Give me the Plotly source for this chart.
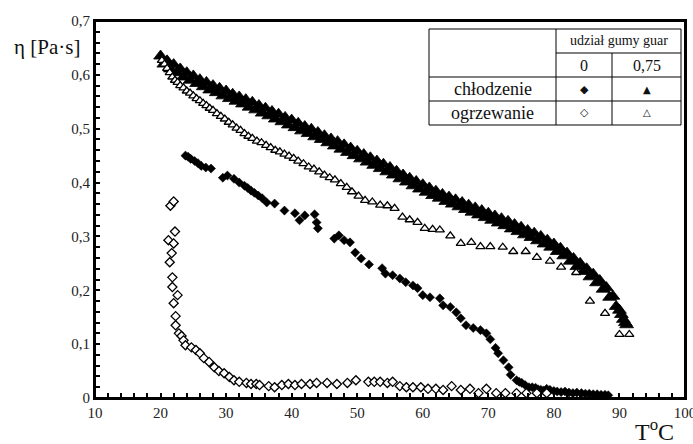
import plotly.graph_objects as go

# ---- data ----
chl_075_x = [20.0, 20.5, 21.0, 21.5, 22.0, 22.5, 23.0, 23.5, 24.0, 24.5, 25.0, 25.5, 26.0, 26.5, 27.0, 27.5,
             28.0, 28.5, 29.0, 29.5, 30.0, 30.5, 31.0, 31.5, 32.0, 32.5, 33.0, 33.5, 34.0, 34.5, 35.0, 35.5,
             36.0, 36.5, 37.0, 37.5, 38.0, 38.5, 39.0, 39.5, 40.0, 40.5, 41.0, 41.5, 42.0, 42.5, 43.0, 43.5,
             44.0, 44.5, 45.0, 45.5, 46.0, 46.5, 47.0, 47.5, 48.0, 48.5, 49.0, 49.5, 50.0, 50.5, 51.0, 51.5,
             52.0, 52.5, 53.0, 53.5, 54.0, 54.5, 55.0, 55.5, 56.0, 56.5, 57.0, 57.5, 58.0, 58.5, 59.0, 59.5,
             60.0, 60.5, 61.0, 61.5, 62.0, 62.5, 63.0, 63.5, 64.0, 64.5, 65.0, 65.5, 66.0, 66.5, 67.0, 67.5,
             68.0, 68.5, 69.0, 69.5, 70.0, 70.5, 71.0, 71.5, 72.0, 72.5, 73.0, 73.5, 74.0, 74.5, 75.0, 75.5,
             76.0, 76.5, 77.0, 77.5, 78.0, 78.5, 79.0, 79.5, 80.0, 80.5, 81.0, 81.5, 82.0, 82.5, 83.0, 83.5,
             84.0, 84.5, 85.0, 85.5, 86.0, 86.5, 87.0, 87.5, 88.0, 88.5, 89.0, 89.5, 90.0, 90.3, 90.6, 90.9, 91.1]
chl_075_y = [0.635, 0.620, 0.626, 0.611, 0.619, 0.604, 0.611, 0.596, 0.604, 0.590, 0.598, 0.584, 0.591, 0.578, 0.586, 0.572,
             0.580, 0.567, 0.575, 0.561, 0.570, 0.556, 0.564, 0.551, 0.559, 0.546, 0.554, 0.540, 0.549, 0.535, 0.543, 0.529,
             0.538, 0.524, 0.532, 0.518, 0.527, 0.513, 0.521, 0.507, 0.516, 0.502, 0.510, 0.496, 0.504, 0.491, 0.499, 0.485,
             0.493, 0.480, 0.487, 0.474, 0.481, 0.468, 0.476, 0.462, 0.470, 0.456, 0.464, 0.450, 0.458, 0.444, 0.452, 0.438,
             0.446, 0.432, 0.440, 0.426, 0.434, 0.420, 0.428, 0.414, 0.421, 0.407, 0.414, 0.401, 0.408, 0.394, 0.402, 0.388,
             0.396, 0.382, 0.390, 0.376, 0.384, 0.371, 0.378, 0.365, 0.373, 0.360, 0.368, 0.355, 0.363, 0.350, 0.358, 0.345,
             0.353, 0.340, 0.348, 0.335, 0.343, 0.330, 0.338, 0.325, 0.333, 0.320, 0.328, 0.314, 0.322, 0.309, 0.317, 0.303,
             0.311, 0.298, 0.306, 0.292, 0.300, 0.286, 0.293, 0.280, 0.286, 0.272, 0.278, 0.264, 0.269, 0.254, 0.259, 0.244,
             0.250, 0.235, 0.240, 0.225, 0.230, 0.214, 0.218, 0.202, 0.205, 0.187, 0.189, 0.170, 0.163, 0.155, 0.146, 0.140, 0.136]

ogrz_075_x = [20.2, 20.6, 21.0, 21.4, 21.8, 22.2, 22.6, 23.0, 23.5, 24.0, 24.5, 25.0, 25.5, 26.0, 26.5, 27.0,
              27.5, 28.0, 28.6, 29.2, 29.8, 30.4, 31.0, 31.6, 32.2, 32.8, 33.4, 34.0, 34.7, 35.4, 36.1, 36.8,
              37.5, 38.2, 38.9, 39.6, 40.3, 41.0, 41.8, 42.6, 43.4, 44.2, 45.0, 45.8, 46.6, 47.5, 48.4, 49.2,
              50.2, 51.2, 52.3, 53.5, 54.6, 55.7, 56.9, 58.0, 59.2, 60.3, 61.5, 62.6, 64.2, 65.8, 67.4, 68.8,
              70.3, 72.2, 73.8, 75.7, 77.4, 79.4, 81.1, 83.4, 85.5, 87.8, 90.0, 91.5]
ogrz_075_y = [0.627, 0.620, 0.612, 0.604, 0.596, 0.590, 0.586, 0.580, 0.576, 0.570, 0.566, 0.561, 0.556, 0.552, 0.547, 0.543,
              0.538, 0.534, 0.528, 0.523, 0.518, 0.512, 0.507, 0.501, 0.497, 0.491, 0.486, 0.482, 0.477, 0.474, 0.469, 0.465,
              0.460, 0.457, 0.453, 0.449, 0.445, 0.440, 0.435, 0.429, 0.425, 0.420, 0.414, 0.409, 0.405, 0.398, 0.391, 0.383,
              0.375, 0.367, 0.364, 0.358, 0.357, 0.352, 0.336, 0.331, 0.326, 0.315, 0.313, 0.312, 0.301, 0.287, 0.289, 0.281,
              0.281, 0.280, 0.272, 0.272, 0.261, 0.254, 0.243, 0.233, 0.180, 0.157, 0.118, 0.118]

chl_0_x = [23.8, 24.2, 24.6, 25.2, 25.7, 26.2, 26.9, 27.7, 29.5, 30.2, 31.2, 32.0, 32.8, 33.3, 33.8, 34.3,
           34.9, 35.5, 36.2, 37.4, 38.9, 40.5, 41.2, 42.0, 43.5, 43.8, 44.0, 46.5, 47.2, 48.0, 48.9, 49.7,
           50.6, 51.8, 53.8, 54.3, 55.4, 56.5, 57.4, 58.5, 59.2, 60.0, 61.1, 62.6, 63.1, 64.2, 65.1, 65.8,
           66.6, 67.7, 68.8, 69.7, 70.3, 71.1, 71.5, 72.3, 73.1, 73.4, 74.3, 74.7, 75.1, 75.6, 76.2, 76.7,
           77.2, 77.6, 78.0, 78.4, 78.9, 79.4, 80.0, 80.5, 81.1, 81.7, 82.3, 82.9, 83.5, 84.2, 84.8, 85.4,
           86.0, 86.6, 87.2, 87.8, 88.3]
chl_0_y = [0.450, 0.448, 0.444, 0.440, 0.436, 0.431, 0.428, 0.426, 0.409, 0.413, 0.407, 0.400, 0.394, 0.390, 0.385, 0.381,
           0.376, 0.371, 0.363, 0.361, 0.348, 0.343, 0.330, 0.339, 0.341, 0.326, 0.315, 0.296, 0.302, 0.293, 0.289, 0.270,
           0.259, 0.248, 0.241, 0.231, 0.228, 0.222, 0.215, 0.209, 0.204, 0.191, 0.187, 0.185, 0.172, 0.169, 0.159, 0.148,
           0.135, 0.130, 0.126, 0.120, 0.109, 0.093, 0.083, 0.070, 0.057, 0.043, 0.033, 0.030, 0.028, 0.024, 0.020, 0.020,
           0.019, 0.016, 0.015, 0.014, 0.017, 0.015, 0.013, 0.012, 0.011, 0.012, 0.010, 0.009, 0.010, 0.009, 0.008, 0.008,
           0.007, 0.007, 0.006, 0.006, 0.005]

ogrz_0_x = [21.5, 22.0, 22.2, 21.2, 22.0, 21.7, 21.4, 21.8, 21.8, 22.6, 22.0, 22.3, 22.3, 22.8, 23.2, 23.5,
            23.8, 24.7, 25.4, 26.0, 26.6, 27.4, 28.2, 28.9, 29.7, 30.5, 31.2, 32.0, 33.1, 33.8, 34.6, 35.1,
            36.5, 37.4, 38.5, 39.5, 40.5, 41.5, 42.8, 43.8, 45.4, 46.9, 48.5, 49.8, 51.7, 52.6, 53.5, 54.6,
            55.4, 56.5, 57.5, 58.5, 59.7, 60.8, 62.0, 63.1, 64.4, 65.8, 67.2, 68.5, 69.7, 71.2, 72.6, 74.3,
            75.8, 77.4, 78.9]
ogrz_0_y = [0.357, 0.365, 0.309, 0.293, 0.287, 0.269, 0.252, 0.224, 0.206, 0.191, 0.176, 0.152, 0.135, 0.120, 0.115, 0.107,
            0.098, 0.094, 0.089, 0.083, 0.074, 0.067, 0.057, 0.050, 0.046, 0.039, 0.033, 0.030, 0.028, 0.026, 0.026, 0.024,
            0.022, 0.020, 0.024, 0.026, 0.024, 0.026, 0.026, 0.028, 0.028, 0.026, 0.028, 0.033, 0.030, 0.030, 0.030, 0.028,
            0.030, 0.022, 0.020, 0.020, 0.020, 0.017, 0.017, 0.015, 0.022, 0.015, 0.017, 0.009, 0.017, 0.009, 0.009, 0.009,
            0.009, 0.009, 0.009]

x_tickvals = [10, 20, 30, 40, 50, 60, 70, 80, 90, 100]
x_ticktext = ["10", "20", "30", "40", "50", "60", "70", "80", "90", "100"]
y_tickvals = [0, 0.1, 0.2, 0.3, 0.4, 0.5, 0.6, 0.7]
y_ticktext = ["0", "0,1", "0,2", "0,3", "0,4", "0,5", "0,6", "0,7"]

table_header = "udział gumy guar"
table_cols = ["0", "0,75"]
table_rows = ["chłodzenie", "ogrzewanie"]

# ---- layout geometry (pixels) ----
W, H = 693, 444
L, R, T, B = 95, 685, 21, 398  # plot area
SERIF = "Liberation Serif"


def px(x):
    return (x - L) / (R - L)


def py(y):
    return (B - y) / (B - T)


fig = go.Figure()
fig.add_trace(go.Scatter(x=chl_075_x, y=chl_075_y, mode="markers",
                         marker=dict(symbol="triangle-up", size=12, color="black",
                                     line=dict(color="black", width=0.8))))
fig.add_trace(go.Scatter(x=chl_0_x, y=chl_0_y, mode="markers",
                         marker=dict(symbol="diamond", size=7, color="black",
                                     line=dict(color="black", width=0.5))))
fig.add_trace(go.Scatter(x=ogrz_075_x, y=ogrz_075_y, mode="markers",
                         marker=dict(symbol="triangle-up", size=8, color="white",
                                     line=dict(color="black", width=1.3))))
fig.add_trace(go.Scatter(x=ogrz_0_x, y=ogrz_0_y, mode="markers",
                         marker=dict(symbol="diamond", size=7, color="white",
                                     line=dict(color="black", width=1.3))))

axis_common = dict(showline=True, linewidth=2, linecolor="black", mirror=True,
                   ticks="inside", ticklen=5, tickwidth=1.5, tickcolor="black",
                   showgrid=False, zeroline=False, ticklabeloverflow="allow", automargin=False,
                   tickfont=dict(family=SERIF, size=15, color="#222"))
fig.update_xaxes(range=[10, 100], tickvals=x_tickvals, ticktext=x_ticktext,
                 minor=dict(dtick=2, ticks="inside", ticklen=5, tickwidth=1.5, tickcolor="black"),
                 **axis_common)
fig.update_yaxes(range=[0, 0.7], tickvals=y_tickvals, ticktext=y_ticktext,
                 minor=dict(dtick=0.02, ticks="inside", ticklen=5, tickwidth=1.5, tickcolor="black"),
                 **axis_common)

# plot frame
fig.add_shape(type="rect", xref="paper", yref="paper", x0=0, x1=1, y0=0, y1=1,
              line=dict(color="black", width=2), fillcolor="rgba(0,0,0,0)", layer="above")

# legend table
tl, tr, tt, tb = 429, 681, 29, 125
c1, c2 = 556, 612
r1, r2, r3 = 53, 77, 101
shapes = [
    dict(type="rect", x0=px(tl), x1=px(tr), y0=py(tb), y1=py(tt)),
    dict(type="line", x0=px(c1), x1=px(c1), y0=py(tb), y1=py(tt)),
    dict(type="line", x0=px(c2), x1=px(c2), y0=py(tb), y1=py(r1)),
    dict(type="line", x0=px(c1), x1=px(tr), y0=py(r1), y1=py(r1)),
    dict(type="line", x0=px(tl), x1=px(tr), y0=py(r2), y1=py(r2)),
    dict(type="line", x0=px(tl), x1=px(tr), y0=py(r3), y1=py(r3)),
]
for s in shapes:
    s.update(xref="paper", yref="paper", line=dict(color="black", width=1), fillcolor="rgba(0,0,0,0)")
    fig.add_shape(**s)


def ann(text, x, y, size, family=SERIF, xanchor="center"):
    fig.add_annotation(text=text, x=px(x), y=py(y), xref="paper", yref="paper",
                       showarrow=False, xanchor=xanchor, yanchor="middle",
                       font=dict(family=family, size=size, color="#111"))


ann(table_header, (c1 + tr) / 2, (tt + r1) / 2, 14)
ann(table_cols[0], (c1 + c2) / 2, (r1 + r2) / 2, 16)
ann(table_cols[1], (c2 + tr) / 2, (r1 + r2) / 2, 16)
ann(table_rows[0], (tl + c1) / 2, (r2 + r3) / 2, 18)
ann(table_rows[1], (tl + c1) / 2, (r3 + tb) / 2, 18)
ann("◆", (c1 + c2) / 2, (r2 + r3) / 2, 11, family="DejaVu Sans")
ann("▲", (c2 + tr) / 2, (r2 + r3) / 2, 10, family="DejaVu Sans")
ann("◇", (c1 + c2) / 2, (r3 + tb) / 2, 11, family="DejaVu Sans")
ann("△", (c2 + tr) / 2, (r3 + tb) / 2, 10, family="DejaVu Sans")

# axis titles
ann("η [Pa·s]", 47, 47, 21)
ann("T<sup>o</sup>C", 654, 430, 24)

fig.update_layout(template="none", width=W, height=H, showlegend=False,
                  margin=dict(l=L, r=W - R, t=T, b=H - B, autoexpand=False),
                  paper_bgcolor="white", plot_bgcolor="white")
fig.write_html("out.html", config={"displayModeBar": False},
               post_script="document.body.style.margin='0';document.body.style.overflow='hidden';")
